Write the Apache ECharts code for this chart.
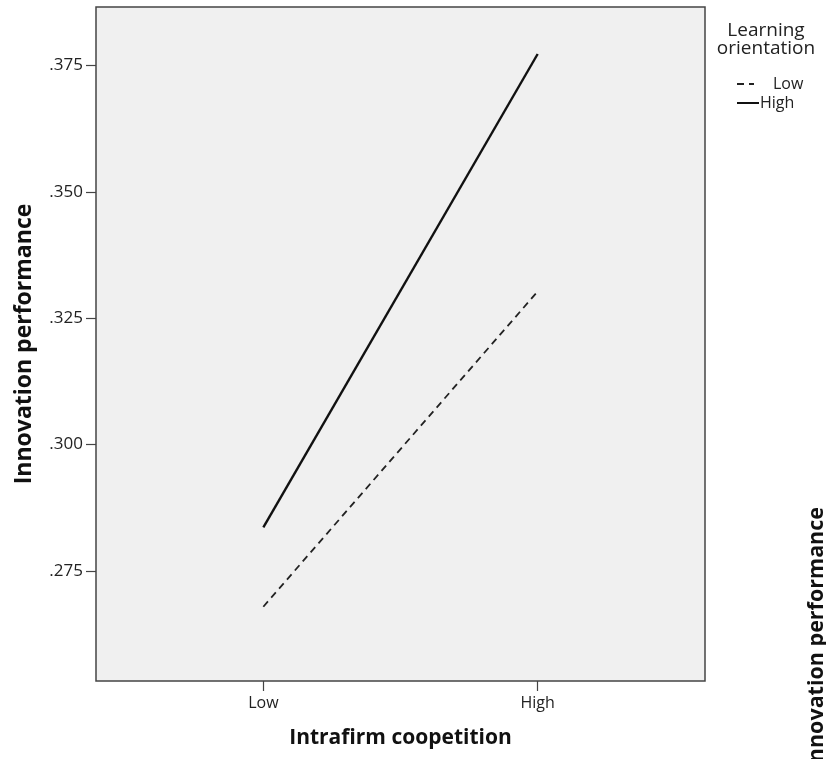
<!DOCTYPE html>
<html><head><meta charset="utf-8">
<script src="https://cdn.jsdelivr.net/npm/echarts@6/dist/echarts.min.js"></script>
<style>html,body{margin:0;padding:0;background:#fff}#c{width:826px;height:759px}</style>
</head><body><div id="c"></div>
<script>
const xCategories = ['Low', 'High'];
const seriesNames = ['Low', 'High'];
const lowOrientation = [0.2679, 0.3303];
const highOrientation = [0.2836, 0.3773];
const yTicks = [0.275, 0.300, 0.325, 0.350, 0.375];

const toPts = arr => arr.map((v, i) => [i, v]);
const F = 'Open Sans';
const chart = echarts.init(document.getElementById('c'), null, {renderer: 'canvas'});
chart.setOption({
  animation: false,
  backgroundColor: '#fff',
  grid: {left: 96, right: 121, top: 7, bottom: 78, show: true, backgroundColor: '#f0f0f0', borderColor: '#444', borderWidth: 1.5},
  xAxis: {
    type: 'value', min: -0.61, max: 1.61,
    name: 'Intrafirm coopetition', nameLocation: 'middle', nameGap: 47,
    nameTextStyle: {fontFamily: F, fontWeight: 'bold', fontSize: 21, color: '#111'},
    splitLine: {show: false}, axisLine: {show: false, onZero: false},
    axisTick: {show: true, length: 10, lineStyle: {color: '#444', width: 1.2}, customValues: [0, 1]},
    axisLabel: {customValues: [0, 1], fontFamily: F, fontSize: 16, color: '#222', margin: 14,
      formatter: v => xCategories[Math.round(v)]}
  },
  yAxis: {
    type: 'value', min: 0.2532, max: 0.3866,
    name: 'Innovation performance', nameLocation: 'middle', nameGap: 60, nameRotate: 90,
    nameTextStyle: {fontFamily: F, fontWeight: 'bold', fontSize: 23, color: '#111'},
    splitLine: {show: false}, axisLine: {show: false, onZero: false},
    axisTick: {show: true, length: 10, lineStyle: {color: '#444', width: 1.2}, customValues: yTicks},
    axisLabel: {customValues: yTicks, fontFamily: F, fontSize: 17, color: '#222', margin: 13,
      formatter: v => v.toFixed(3).replace(/^0/, '')}
  },
  legend: [
    {data: [seriesNames[0]], orient: 'vertical', left: 731, top: 71, itemWidth: 17, itemHeight: 16,
      itemStyle: {opacity: 0},
      textStyle: {fontFamily: F, fontSize: 16, color: '#222', padding: [0, 0, 0, 14]}},
    {data: [seriesNames[1]], orient: 'vertical', left: 731, top: 90, itemWidth: 22, itemHeight: 16,
      itemStyle: {opacity: 0},
      textStyle: {fontFamily: F, fontSize: 16, color: '#222', padding: [0, 0, 0, -4]}}
  ],
  graphic: [
    {type: 'text', x: 766, y: 40, style: {text: 'Learning\norientation', fontFamily: F, fontSize: 19, fill: '#222', align: 'center', verticalAlign: 'middle', lineHeight: 18}},
    {type: 'text', x: 817, y: 507, rotation: Math.PI / 2,
      style: {text: 'Innovation performance', fontFamily: F, fontWeight: 'bold', fontSize: 21.5, fill: '#111', align: 'right', verticalAlign: 'middle'}}
  ],
  series: [
    {name: seriesNames[0], type: 'line', data: toPts(lowOrientation), symbol: 'none', color: '#222',
      lineStyle: {color: '#222', width: 1.8, type: [7, 5]}},
    {name: seriesNames[1], type: 'line', data: toPts(highOrientation), symbol: 'none', color: '#111',
      lineStyle: {color: '#111', width: 2.4}}
  ]
});
</script></body></html>
